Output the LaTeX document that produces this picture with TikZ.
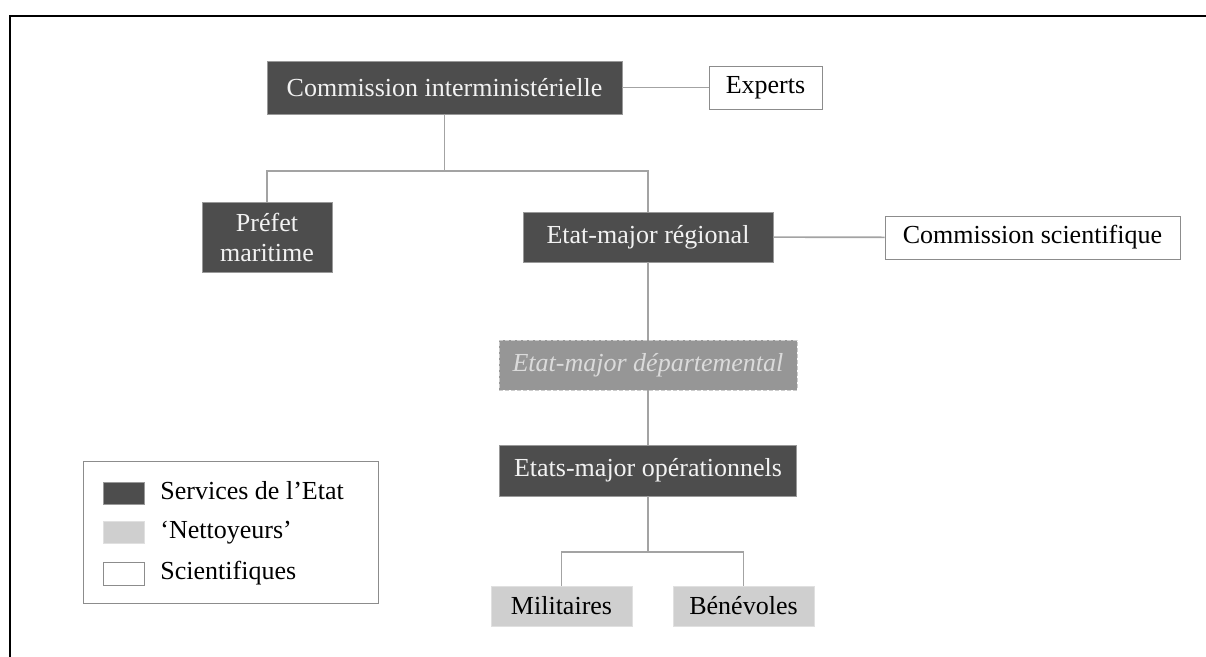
\documentclass[tikz,border=0pt]{standalone}
\usepackage{fontspec}
\setmainfont{Liberation Serif}
\usepackage{tikz}
\definecolor{stategray}{HTML}{4D4D4D}

\begin{document}
\begin{tikzpicture}[x=0.5pt, y=-0.5pt,
  every node/.style={rectangle, inner sep=0pt, font=\fontsize{13}{15}\selectfont, align=center},
  etat/.style={fill=stategray, draw=black!40, text=black!5},
  nett/.style={fill=black!19, draw=black!12},
  sci/.style={fill=white, draw=black!45},
  dep/.style={fill=black!41, draw=black!20, dash pattern=on 2pt off 1pt, text=black!14, font=\fontsize{13}{15}\selectfont\itshape},
  link/.style={draw=black!36, line width=0.8pt},
]
\useasboundingbox (0,0) rectangle (1206,657);
\draw[line width=1pt] (10,657) -- (10,16) -- (1206,16);

\node[etat, minimum width=177.5pt, minimum height=26.5pt] (comint) at (444.5,87.5) {Commission interministérielle};
\node[sci, minimum width=56.5pt, minimum height=21.5pt] (experts) at (765.5,87.5) {Experts};
\node[etat, minimum width=65pt, minimum height=35pt] (prefet) at (267,237) {Préfet\\maritime};
\node[etat, minimum width=125pt, minimum height=25pt] (etatreg) at (648,237) {Etat-major régional};
\node[sci, minimum width=147.5pt, minimum height=21.5pt] (comsci) at (1032.5,237.5) {Commission scientifique};
\node[dep, minimum width=149pt, minimum height=25pt] (etatdep) at (648,365) {Etat-major départemental};
\node[etat, minimum width=148.5pt, minimum height=25.5pt] (etatop) at (648,470.5) {Etats-major opérationnels};
\node[nett, minimum width=70.5pt, minimum height=20pt] (milit) at (561.5,606) {Militaires};
\node[nett, minimum width=70.5pt, minimum height=20pt] (benev) at (743.5,606) {Bénévoles};
\coordinate (fork1) at (444.5,171);
\coordinate (fork2) at (648,552);

\draw[link] (comint) -- (experts);
\draw[link] (comint.south) -- (fork1) -| (prefet.north);
\draw[link] (fork1) -| (etatreg.north);
\draw[link] (etatreg) -- (comsci);
\draw[link] (etatreg) -- (etatdep);
\draw[link] (etatdep) -- (etatop);
\draw[link] (etatop) -- (fork2) -| (milit.north);
\draw[link] (fork2) -| (benev.north);

\node[draw=black!45, minimum width=147.5pt, minimum height=71pt] (legend) at (230.5,532) {};
\node[etat, minimum width=20.5pt, minimum height=11pt] (lgetat) at (123.5,493) {};
\node[nett, minimum width=20.5pt, minimum height=11pt] (lgnett) at (123.5,532) {};
\node[sci, minimum width=20.5pt, minimum height=11.5pt] (lgsci) at (123.5,573.5) {};
\node[anchor=base west] (lbetat) at (160,500) {Services de l'Etat};
\node[anchor=base west] (lbnett) at (160,539) {`Nettoyeurs'};
\node[anchor=base west] (lbsci) at (160,580) {Scientifiques};
\end{tikzpicture}
\end{document}
